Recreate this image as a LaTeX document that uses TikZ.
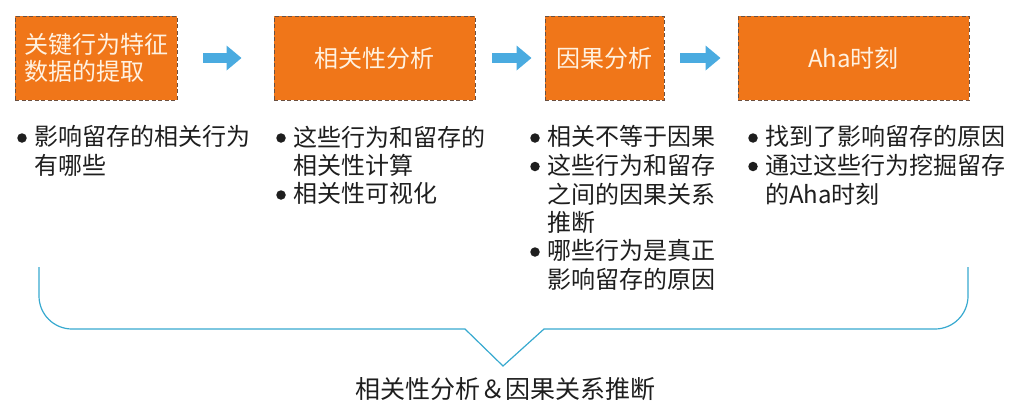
\documentclass[tikz,border=0pt]{standalone}
\usepackage{fontspec}
\setmainfont{Noto Sans CJK SC}
\usetikzlibrary{arrows.meta}

\definecolor{boxfill}{HTML}{F07619}
\definecolor{boxedge}{HTML}{6B5040}
\definecolor{boxtext}{HTML}{FFF1E0}
\definecolor{flowblue}{HTML}{4AABE0}
\definecolor{bracecol}{HTML}{37A9CF}
\definecolor{ink}{HTML}{1E1E1E}

\begin{document}
\begin{tikzpicture}[
  x=1pt, y=-1pt,
  stage/.style   = {draw=boxedge, dash pattern=on 4pt off 2.5pt, line width=0.9pt,
                    fill=boxfill, text=boxtext, inner sep=0pt, minimum height=84pt,
                    font=\fontsize{24pt}{27pt}\selectfont, align=left},
  flow/.style    = {draw=flowblue, line width=10pt,
                    -{Triangle[length=15pt,width=24pt]}},
  item/.style    = {anchor=north west, inner sep=0pt, align=left, text=ink,
                    font=\fontsize{24pt}{28.5pt}\selectfont,
                    label={[dot]north west:{}}},
  dot/.style     = {circle, fill=ink, minimum size=9.5pt, inner sep=0pt,
                    anchor=center, xshift=-12pt, yshift=-12.5pt},
  brace/.style   = {draw=bracecol, line width=1.2pt},
  sumlbl/.style  = {text=ink, inner sep=0pt, font=\fontsize{25pt}{28pt}\selectfont},
]
  \useasboundingbox (0,0) rectangle (1024,418);

  % four stages, left to right, all on y = 58
  \node[stage, minimum width=162pt] (feat)  at (96,58)    {关键行为特征\\数据的提取};
  \node[stage, minimum width=201pt] (corr)  at (374.5,58) {相关性分析};
  \node[stage, minimum width=119pt] (cause) at (604.5,58) {因果分析};
  \node[stage, minimum width=231pt] (aha)   at (853.5,58) {Aha时刻};

  \draw[flow, shorten <=26pt, shorten >=32pt] (feat) -- (corr);
  \draw[flow, shorten <=17pt, shorten >=13pt] (corr) -- (cause);
  \draw[flow, shorten <=16pt, shorten >=17pt] (cause) -- (aha);

  % bullet points under each stage; line pitch 28.5
  \node[item] (feat1)  at (34,125.5)  {影响留存的相关行为\\有哪些};
  \node[item] (corr1)  at (293,125.5) {这些行为和留存的\\相关性计算};
  \node[item] (corr2)  at (293,182.5) {相关性可视化};
  \node[item] (cause1) at (547,125.5) {相关不等于因果};
  \node[item] (cause2) at (547,154)   {这些行为和留存\\之间的因果关系\\推断};
  \node[item] (cause3) at (547,239.5) {哪些行为是真正\\影响留存的原因};
  \node[item] (aha1)   at (765,125.5) {找到了影响留存的原因};
  \node[item] (aha2)   at (765,154)   {通过这些行为挖掘留存\\的Aha时刻};

  % the brace that gathers all four columns
  \coordinate (tip) at (503,366);
  \draw[brace] (39,267) -- (39,296) .. controls (39,314.2) and (53.8,329) .. (72,329)
    -- (465,329) -- (tip) -- (544,329) -- (935,329)
    .. controls (953.2,329) and (968,314.2) .. (968,296) -- (968,267);

  \node[sumlbl] (sum) at (505,389) {相关性分析＆因果关系推断};
\end{tikzpicture}
\end{document}
